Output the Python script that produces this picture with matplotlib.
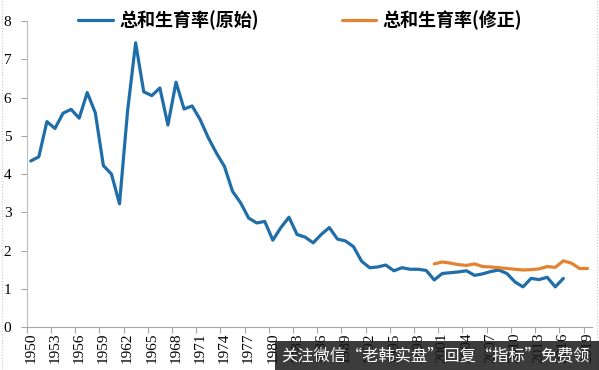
import matplotlib
matplotlib.use("Agg")
import matplotlib.pyplot as plt
from matplotlib.patches import Rectangle
from matplotlib.lines import Line2D

plt.rcParams['font.family'] = ['Noto Sans CJK SC', 'DejaVu Sans']

# ---- data ----
years_orig = list(range(1950, 2017))
tfr_orig = [4.34, 4.45, 5.37, 5.19, 5.59, 5.69, 5.46, 6.13, 5.60, 4.22,
            4.00, 3.22, 5.65, 7.43, 6.15, 6.05, 6.25, 5.28, 6.40, 5.70,
            5.78, 5.42, 4.95, 4.55, 4.20, 3.55, 3.25, 2.85, 2.72, 2.76,
            2.27, 2.60, 2.87, 2.42, 2.35, 2.20, 2.42, 2.60, 2.30, 2.25,
            2.10, 1.72, 1.55, 1.57, 1.62, 1.47, 1.55, 1.51, 1.51, 1.48,
            1.23, 1.40, 1.42, 1.44, 1.47, 1.35, 1.39, 1.45, 1.49, 1.40,
            1.18, 1.05, 1.27, 1.24, 1.30, 1.05, 1.27]
years_adj = list(range(2000, 2020))
tfr_adj = [1.65, 1.70, 1.67, 1.63, 1.61, 1.65, 1.58, 1.57, 1.55, 1.53,
           1.51, 1.49, 1.50, 1.52, 1.58, 1.56, 1.73, 1.67, 1.53, 1.53]
label_years = list(range(1950, 2020, 3))
y_ticks = [0, 1, 2, 3, 4, 5, 6, 7, 8]
name_orig = "总和生育率(原始)"
name_adj = "总和生育率(修正)"
watermark = "关注微信“老韩实盘”回复“指标”免费领"

blue = '#1f6eaa'
orange = '#e3822f'

fig = plt.figure(figsize=(5.99, 3.70), dpi=100)
ax = fig.add_axes([0.0446, 0.1162, 0.943, 0.827])

ax.plot(years_orig, tfr_orig, color=blue, lw=2.3, solid_joinstyle='round',
        solid_capstyle='round', label=name_orig)
ax.plot(years_adj, tfr_adj, color=orange, lw=2.3, solid_joinstyle='round',
        solid_capstyle='round', label=name_adj)

ax.set_xlim(1949.5, 2019.5)
ax.set_ylim(0, 8)

# tick marks at category boundaries, labels at category centres
ax.set_xticks([y - 0.5 for y in label_years])
ax.set_xticklabels([])
ax.set_xticks(label_years, minor=True)
ax.set_xticklabels([str(y) for y in label_years], minor=True, rotation=90,
                   family='Liberation Serif', fontsize=11)
ax.tick_params(axis='x', which='major', length=4, width=0.8, color='#a6a6a6', direction='out')
ax.tick_params(axis='x', which='minor', length=0, pad=4)

ax.set_yticks(y_ticks)
ax.set_yticklabels([str(v) for v in y_ticks], family='Liberation Serif', fontsize=11)
ax.tick_params(axis='y', length=4, width=0.8, color='#a6a6a6', direction='out', pad=7)

for s in ['top', 'right']:
    ax.spines[s].set_visible(False)
ax.spines['left'].set_color('#bfbfbf')
ax.spines['bottom'].set_color('#a6a6a6')
ax.spines['left'].set_linewidth(0.8)
ax.spines['bottom'].set_linewidth(0.8)

leg = ax.legend(loc='center', bbox_to_anchor=(0.484, 1.003), ncol=2, frameon=False,
                prop={'family': ['Noto Sans CJK SC', 'DejaVu Sans'], 'weight': 'bold', 'size': 13},
                handlelength=1.9, handletextpad=0.35, columnspacing=4.6,
                borderaxespad=0, borderpad=0)

# dotted chart border
fig.add_artist(Line2D([0.003, 0.003], [0, 1], color='#c8c8c8', lw=0.8, ls=':'))
fig.add_artist(Line2D([0.997, 0.997], [0, 1], color='#c8c8c8', lw=0.8, ls=':'))

# watermark banner
fig.add_artist(Rectangle((0.459, 0.0), 0.541, 0.079, transform=fig.transFigure,
                         facecolor='#1a1a1a', alpha=0.85, edgecolor='none', zorder=10))
fig.text(0.470, 0.039, watermark, color='white', fontsize=11.7, va='center', ha='left',
         family=['Noto Sans CJK SC', 'DejaVu Sans'], zorder=11)

fig.savefig('out.png', dpi=100)
